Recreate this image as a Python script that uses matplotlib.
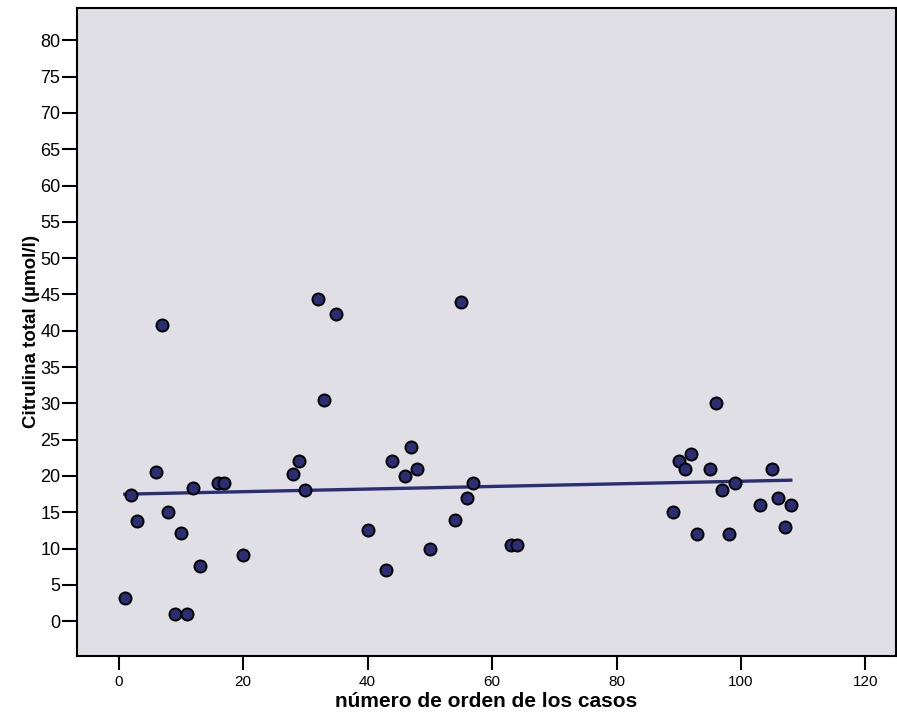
import numpy as np
import matplotlib.pyplot as plt

plt.rcParams['font.family'] = ['Liberation Sans', 'DejaVu Sans']

# número de orden de los casos
caso = [1, 2, 3, 6, 7, 8, 9, 10, 11, 12, 13, 16, 17, 20, 28, 29, 30, 32, 33, 35,
        40, 43, 44, 46, 47, 48, 50, 54, 55, 56, 57, 63, 64,
        89, 90, 91, 92, 93, 95, 96, 97, 98, 99, 103, 105, 106, 107, 108]
# Citrulina total (umol/l)
citrulina = [3.2, 17.4, 13.8, 20.5, 40.8, 15.1, 1.0, 12.1, 1.0, 18.4, 7.6, 19.0, 19.0, 9.1,
             20.3, 22.0, 18.0, 44.4, 30.4, 42.3,
             12.5, 7.0, 22.0, 20.0, 24.0, 21.0, 10.0, 14.0, 44.0, 17.0, 19.0, 10.5, 10.5,
             15.0, 22.0, 21.0, 23.0, 12.0, 21.0, 30.0, 18.0, 12.0, 19.0, 16.0, 21.0, 17.0, 13.0, 16.0]

x = np.array(caso)
y = np.array(citrulina)
b, a = np.polyfit(x, y, 1)
xl = np.array([x.min(), x.max()])

fig = plt.figure(figsize=(8.97, 7.22), dpi=100)
ax = fig.add_axes([0.0858, 0.0914, 0.913, 0.898])
ax.set_facecolor('#E0DFE5')

ax.plot(xl, a + b * xl, color='#2B2E72', lw=2.4, zorder=2)
ax.scatter(x, y, s=75, facecolor='#2B2E72', edgecolor='black', linewidth=1.4, zorder=3)

ax.set_xlim(-6.7, 124.9)
ax.set_ylim(-4.8, 84.5)
ax.set_xticks(np.arange(0, 121, 20))
ax.set_yticks(np.arange(0, 81, 5))
ax.tick_params(axis='x', length=10, width=1.5, labelsize=11, pad=4)
ax.tick_params(axis='y', length=11, width=1.5, labelsize=13, pad=1)
for s in ax.spines.values():
    s.set_linewidth(1.5)

ax.set_xlabel('número de orden de los casos', fontsize=15, fontweight='bold', labelpad=2)
ax.set_ylabel('Citrulina total (µmol/l)', fontsize=13.5, fontweight='bold', labelpad=0)

fig.savefig('out.png', dpi=100)
